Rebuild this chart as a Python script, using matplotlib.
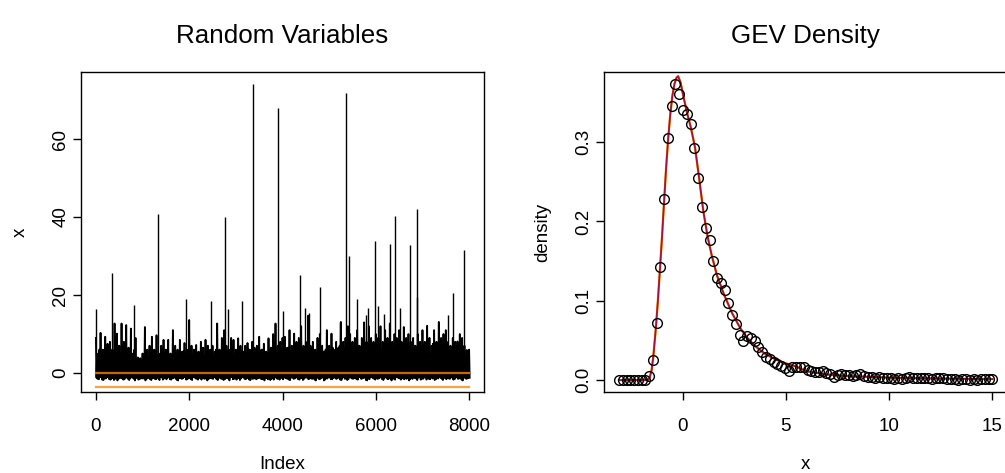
import numpy as np
import matplotlib
matplotlib.use("Agg")
from matplotlib import pyplot as plt

plt.rcParams['font.family'] = ['Liberation Sans', 'DejaVu Sans']

# ---- left panel: 8000 GEV draws, read as per-column highs/lows plus the big spikes
n_obs = 8000
col_step = 50
col_hi = [9, 5, 10.3, 6, 9.3, 7.5, 8, 6, 12.7, 10.1,
          7, 12.7, 8, 12.3, 6.5, 11.4, 5, 9, 4, 3.8,
          5, 11.8, 6, 7, 9.3, 6, 9.7, 5, 7, 8.5,
          6, 8.5, 5, 11, 7, 6, 8.5, 5.5, 7.7, 6,
          13.6, 7, 6, 7.2, 5.5, 8, 6.5, 8.5, 7, 6,
          7, 5.5, 12.7, 6, 9, 11, 7, 6, 9, 8.5,
          6, 8.9, 7, 5.5, 7, 7.7, 6, 8, 6.5, 7,
          9.3, 6, 7.5, 5.5, 8.9, 6.5, 10, 12.7, 7, 8,
          9, 9.3, 6.5, 11, 7, 10.1, 8, 9, 12, 7,
          8, 14.7, 7, 8, 6, 9, 10, 7, 5.5, 11,
          7, 10.1, 6, 8, 6.5, 13.1, 8, 9, 12, 10,
          8, 9, 11, 7, 9, 13, 8, 12, 9, 8,
          10, 9, 12, 8, 11, 9, 12.7, 8, 10, 9,
          11, 8, 11.8, 9, 10, 8, 9, 7, 10, 8,
          11, 8, 12.1, 9, 7, 11, 8, 13.1, 9, 10,
          11, 8, 7, 9, 8, 8.1, 10, 9, 7, 5.9,
          6]
col_mid = [4.5, 6, 3.5, 5, 4, 6.5, 3, 5.5, 4, 7,
           5, 4, 6, 3.5, 5, 4.5, 6, 3, 2.5, 3,
           4, 5, 3.5, 6, 4, 5.5, 3, 4.5, 6, 4,
           5, 3.5, 4.5, 6, 3, 5, 4, 5.5, 3.5, 4.5,
           6, 4, 5, 3, 4.5, 6.5, 3.5, 5, 4, 5.5,
           4, 6, 3.5, 5, 4.5, 3, 5.5, 4, 6, 3.5,
           5, 4, 5.5, 3, 4.5, 6, 4, 5, 3.5, 5.5,
           4.5, 6, 3.5, 5, 4, 6.5, 4.5, 5, 3.5, 6,
           5, 4, 6.5, 4.5, 5.5, 3.5, 6, 5, 4, 6.5,
           5.5, 4, 6, 4.5, 5, 7, 4, 5.5, 6, 4.5,
           5, 6.5, 4, 5.5, 7, 4.5, 6, 5, 6.5, 4,
           6, 5, 7, 4.5, 6.5, 5, 6, 7.5, 4.5, 6,
           5.5, 7, 5, 6.5, 4.5, 7, 5.5, 6, 5, 7.5,
           6, 5, 7, 5.5, 6.5, 4.5, 7, 6, 5, 6.5,
           7, 5.5, 6, 4.5, 7.5, 5, 6.5, 5.5, 7, 6,
           5, 6.5, 5.5, 7, 6, 4.5, 6.5, 5, 4, 3.5]
col_lo = [-1.2, -1.6, -1.0, -1.8, -1.4, -1.1, -1.7, -1.3, -1.5, -1.9,
          -1.1, -1.4, -1.6, -1.2, -1.8, -1.0, -1.5, -1.3, -1.7, -1.2,
          -1.4, -1.9, -1.1, -1.6, -1.3, -1.5, -1.0, -1.8, -1.2, -1.4,
          -1.6, -1.1, -1.7, -1.3, -1.5, -1.9, -1.2, -1.4, -1.0, -1.6,
          -1.3, -1.8, -1.1, -1.5, -1.2, -1.7, -1.4, -1.0, -1.6, -1.3,
          -1.5, -1.2, -1.8, -1.1, -1.4, -1.6, -1.3, -1.9, -1.0, -1.5,
          -1.7, -1.2, -1.4, -1.1, -1.6, -1.3, -1.8, -1.5, -1.0, -1.4,
          -1.2, -1.6, -1.9, -1.3, -1.1, -1.5, -1.7, -1.2, -1.4, -1.0,
          -1.6, -1.3, -1.5, -1.8, -1.1, -1.4, -1.2, -1.7, -1.3, -1.5,
          -1.0, -1.6, -1.4, -1.2, -1.9, -1.3, -1.5, -1.1, -1.7, -1.4,
          -1.2, -1.6, -1.0, -1.5, -1.3, -1.8, -1.1, -1.4, -1.6, -1.2,
          -1.5, -1.3, -1.7, -1.0, -1.4, -1.2, -1.9, -1.6, -1.1, -1.5,
          -1.3, -1.4, -1.2, -1.8, -1.0, -1.6, -1.5, -1.3, -1.7, -1.1,
          -1.4, -1.2, -1.6, -1.5, -1.9, -1.3, -1.0, -1.4, -1.2, -1.7,
          -1.5, -1.1, -1.3, -1.6, -1.4, -1.8, -1.2, -1.0, -1.5, -1.3,
          -1.6, -1.4, -1.1, -1.7, -1.2, -1.5, -1.3, -1.9, -1.0, -1.4,
          -1.2]
col_lo2 = [-1.5, -1.1, -1.7, -1.3, -1.0, -1.6, -1.4, -1.8, -1.2, -1.5,
           -1.3, -1.7, -1.1, -1.5, -1.4, -1.2, -1.9, -1.0, -1.6, -1.4,
           -1.1, -1.5, -1.3, -1.8, -1.2, -1.6, -1.4, -1.0, -1.7, -1.3,
           -1.2, -1.6, -1.4, -1.0, -1.8, -1.3, -1.5, -1.1, -1.7, -1.2,
           -1.6, -1.0, -1.4, -1.7, -1.3, -1.1, -1.5, -1.9, -1.2, -1.4,
           -1.0, -1.6, -1.3, -1.5, -1.8, -1.2, -1.4, -1.1, -1.6, -1.3,
           -1.4, -1.8, -1.1, -1.5, -1.2, -1.7, -1.0, -1.4, -1.6, -1.3,
           -1.5, -1.1, -1.3, -1.6, -1.8, -1.2, -1.0, -1.5, -1.7, -1.3,
           -1.1, -1.4, -1.7, -1.2, -1.5, -1.0, -1.6, -1.3, -1.8, -1.2,
           -1.4, -1.2, -1.5, -1.7, -1.1, -1.6, -1.3, -1.9, -1.4, -1.0,
           -1.6, -1.3, -1.4, -1.1, -1.7, -1.2, -1.5, -1.8, -1.0, -1.4,
           -1.3, -1.6, -1.1, -1.5, -1.2, -1.8, -1.4, -1.0, -1.3, -1.7,
           -1.5, -1.1, -1.6, -1.3, -1.4, -1.2, -1.9, -1.5, -1.0, -1.3,
           -1.7, -1.4, -1.1, -1.2, -1.6, -1.5, -1.3, -1.8, -1.1, -1.4,
           -1.2, -1.7, -1.5, -1.0, -1.3, -1.6, -1.4, -1.2, -1.8, -1.1,
           -1.3, -1.5, -1.2, -1.6, -1.0, -1.4, -1.7, -1.3, -1.5, -1.2]
spike_idx = [5, 350, 808, 1330, 1930, 2463, 2760, 2835, 3142, 3368,
             3908, 4011, 4376, 4483, 4576, 4800, 5234, 5356, 5434, 5599,
             5792, 5842, 5978, 6042, 6185, 6299, 6421, 6510, 6736, 6878,
             6893, 7544, 7662, 7884]
spike_val = [16.3, 25.7, 17.4, 40.7, 19.1, 18.5, 40.0, 16.3, 18.4, 74.2,
             67.9, 15.8, 25.1, 16.7, 15.5, 22.1, 13.1, 71.7, 30.0, 19.1,
             15.0, 16.7, 33.8, 17.3, 15.1, 33.2, 40.3, 16.7, 32.7, 19.6,
             42.0, 14.9, 20.6, 31.5]
loc_level = 0.0
lower_level = -3.5

# ---- right panel: empirical density (circles) and fitted GEV density (lines)
dens_x = [-3.09, -2.91, -2.72, -2.54, -2.36, -2.18, -1.99, -1.81, -1.63, -1.45,
          -1.26, -1.08, -0.90, -0.71, -0.53, -0.35, -0.17, 0.02, 0.20, 0.38,
          0.56, 0.75, 0.93, 1.11, 1.30, 1.48, 1.66, 1.85, 2.03, 2.21,
          2.39, 2.58, 2.76, 2.94, 3.12, 3.31, 3.49, 3.67, 3.85, 4.04,
          4.22, 4.40, 4.58, 4.77, 4.95, 5.13, 5.32, 5.50, 5.68, 5.86,
          6.05, 6.23, 6.41, 6.59, 6.78, 6.96, 7.14, 7.33, 7.51, 7.69,
          7.87, 8.06, 8.24, 8.42, 8.60, 8.79, 8.97, 9.15, 9.34, 9.52,
          9.70, 9.88, 10.07, 10.25, 10.43, 10.61, 10.80, 10.98, 11.16, 11.35,
          11.53, 11.71, 11.89, 12.08, 12.26, 12.44, 12.62, 12.81, 12.99, 13.17,
          13.36, 13.54, 13.72, 13.90, 14.09, 14.27, 14.45, 14.63, 14.82, 15.00]
dens_y = [0, 0, 0, 0, 0, 0, 0, 0, 0.005, 0.025,
          0.072, 0.142, 0.228, 0.305, 0.345, 0.373, 0.360, 0.340, 0.335, 0.323,
          0.293, 0.255, 0.218, 0.192, 0.177, 0.150, 0.128, 0.122, 0.113, 0.097,
          0.082, 0.071, 0.057, 0.049, 0.055, 0.053, 0.049, 0.042, 0.035, 0.029,
          0.026, 0.023, 0.020, 0.018, 0.015, 0.012, 0.016, 0.017, 0.016, 0.016,
          0.013, 0.011, 0.010, 0.010, 0.011, 0.009, 0.008, 0.004, 0.006, 0.007,
          0.006, 0.006, 0.005, 0.006, 0.007, 0.005, 0.004, 0.004, 0.003, 0.004,
          0.003, 0.003, 0.002, 0.001, 0.002, 0.001, 0.003, 0.004, 0.003, 0.003,
          0.002, 0.003, 0.002, 0.001, 0.002, 0.002, 0.003, 0.001, 0.001, 0.001,
          0.000, 0.001, 0.001, 0.000, 0.001, 0.000, 0.001, 0.001, 0.001, 0.001]
fit_x = [-3.09, -1.68, -1.60, -1.50, -1.42, -1.30, -1.20, -1.10, -1.00, -0.90,
         -0.80, -0.70, -0.60, -0.50, -0.40, -0.30, -0.22, -0.10, 0.00, 0.20,
         0.40, 0.60, 0.80, 1.00, 1.20, 1.40, 1.66, 2.00, 2.40, 2.80,
         3.10, 3.50, 4.00, 4.50, 5.00, 5.50, 6.00, 7.00, 8.00, 9.00,
         10.0, 11.0, 12.0, 13.0, 14.0, 15.0]
fit_y = [0, 0, 0.003, 0.013, 0.030, 0.065, 0.100, 0.140, 0.180, 0.225,
         0.268, 0.305, 0.335, 0.358, 0.373, 0.381, 0.383, 0.375, 0.362, 0.338,
         0.318, 0.293, 0.254, 0.213, 0.182, 0.158, 0.132, 0.108, 0.084, 0.065,
         0.054, 0.043, 0.033, 0.026, 0.021, 0.017, 0.011, 0.007, 0.005, 0.004,
         0.003, 0.0025, 0.002, 0.0017, 0.0014, 0.0012]

fig = plt.figure(figsize=(10.05, 4.73), dpi=100)
ax1 = fig.add_axes([0.0806, 0.1712, 0.401, 0.6766])
ax2 = fig.add_axes([0.601, 0.1712, 0.4012, 0.6766])

# left: the series drawn as a dense zigzag between column highs and lows
col_idx = np.arange(0, n_obs + 1, col_step)
q = col_step / 4
zx, zy = [], []
for i, ix in enumerate(col_idx):
    zx += [ix, ix + q]
    zy += [col_hi[i], col_lo[i]]
    if i < len(col_mid):
        zx += [ix + 2 * q, ix + 3 * q]
        zy += [col_mid[i], col_lo2[i]]
ax1.plot(zx, zy, color='black', lw=1.3)
ax1.vlines(spike_idx, loc_level, spike_val, color='black', lw=1.0)
ax1.plot([1, n_obs], [loc_level, loc_level], color='#CC6600', lw=1.6)
ax1.plot([1, n_obs], [lower_level, lower_level], color='#FFA040', lw=1.6)
ax1.set_xlim(-319, 8319)
ax1.set_ylim(-4.87, 77.18)
ax1.set_xticks([0, 2000, 4000, 6000, 8000])
ax1.set_yticks([0, 20, 40, 60])
ax1.set_xlabel('Index', fontsize=13.5, labelpad=15)
ax1.set_ylabel('x', fontsize=13.5, labelpad=17)
ax1.set_title('Random Variables', fontsize=18.7, pad=21)

# right: density points and fitted curve
ax2.plot(fit_x, fit_y, color='orange', lw=1.7)
ax2.plot(fit_x, fit_y, color='#A8103C', lw=1.3)
ax2.plot(dens_x, dens_y, 'o', mfc='none', mec='black', ms=7, mew=1.0)
ax2.set_xlim(-3.81, 15.72)
ax2.set_ylim(-0.0151, 0.3883)
ax2.set_xticks([0, 5, 10, 15])
ax2.set_yticks([0.0, 0.1, 0.2, 0.3])
ax2.set_yticklabels(['0.0', '0.1', '0.2', '0.3'])
ax2.set_xlabel('x', fontsize=13.5, labelpad=15)
ax2.set_ylabel('density', fontsize=13.5, labelpad=17)
ax2.set_title('GEV Density', fontsize=18.7, pad=21)

for ax in (ax1, ax2):
    for s in ax.spines.values():
        s.set_linewidth(1.0)
    ax.tick_params(axis='x', direction='out', length=5.5, width=1.0,
                   labelsize=13.5, pad=13)
    ax.tick_params(axis='y', direction='out', length=5.5, width=1.0,
                   labelsize=13.5, pad=3)
    for lab in ax.get_yticklabels():
        lab.set_rotation(90)
        lab.set_va('center')

fig.savefig('out.png', dpi=100)
